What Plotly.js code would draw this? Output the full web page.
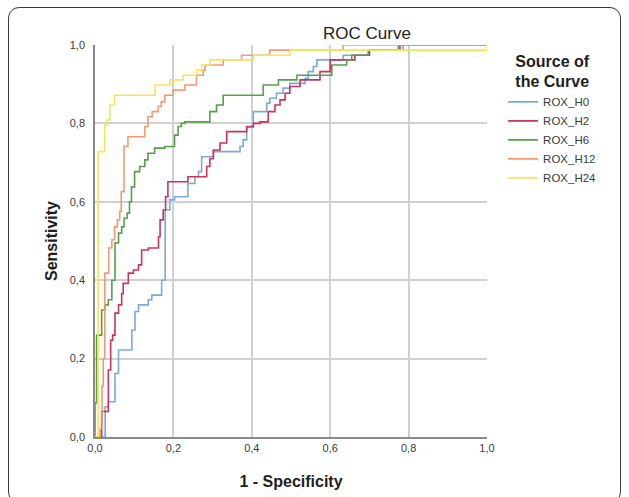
<!DOCTYPE html>
<html>
<head>
<meta charset="utf-8">
<script src="https://cdn.plot.ly/plotly-3.0.1.min.js"></script>
<style>
  html, body { margin: 0; padding: 0; background: #ffffff; }
  #wrap { position: relative; width: 629px; height: 497px; overflow: hidden; }
  #frame { position: absolute; left: 8px; top: 7px; width: 613px; height: 496px;
           border: 1px solid #3a3a3a; border-radius: 11px; box-sizing: border-box; }
  #chart { position: absolute; left: 0; top: 0; width: 629px; height: 497px; }
</style>
</head>
<body>
<div id="wrap">
  <div id="frame"></div>
  <div id="chart"></div>
</div>
<script>
// Series names
const seriesNames = ['ROX_H0', 'ROX_H2', 'ROX_H6', 'ROX_H12', 'ROX_H24'];

// ROC step points (1 - specificity, sensitivity)
const h0_x = [0, 0.012, 0.026, 0.034, 0.051, 0.060, 0.094, 0.102, 0.111, 0.136, 0.145, 0.170, 0.179, 0.191, 0.203, 0.237, 0.255, 0.264, 0.272, 0.302, 0.370, 0.378, 0.387, 0.404, 0.438, 0.446, 0.463, 0.480, 0.497, 0.536, 0.544, 0.557, 0.566, 0.633, 0.700, 0.786, 1.0];
const h0_y = [0, 0.000, 0.077, 0.090, 0.162, 0.222, 0.273, 0.320, 0.337, 0.350, 0.362, 0.400, 0.579, 0.605, 0.613, 0.647, 0.664, 0.677, 0.715, 0.728, 0.741, 0.758, 0.790, 0.830, 0.851, 0.864, 0.877, 0.890, 0.902, 0.915, 0.932, 0.945, 0.962, 0.974, 0.987, 1.000, 1.0];

const h2_x = [0, 0.017, 0.034, 0.040, 0.045, 0.051, 0.060, 0.068, 0.072, 0.085, 0.098, 0.111, 0.119, 0.136, 0.162, 0.166, 0.174, 0.180, 0.186, 0.237, 0.285, 0.293, 0.302, 0.319, 0.336, 0.387, 0.404, 0.421, 0.442, 0.459, 0.472, 0.485, 0.497, 0.523, 0.574, 0.600, 0.663, 0.700, 0.778, 1.0];
const h2_y = [0, 0.065, 0.171, 0.247, 0.260, 0.316, 0.337, 0.366, 0.392, 0.418, 0.426, 0.439, 0.477, 0.482, 0.511, 0.554, 0.579, 0.613, 0.651, 0.664, 0.690, 0.710, 0.732, 0.750, 0.779, 0.792, 0.800, 0.804, 0.830, 0.847, 0.860, 0.877, 0.894, 0.911, 0.932, 0.962, 0.974, 0.987, 1.000, 1.0];

const h6_x = [0, 0.000, 0.004, 0.017, 0.026, 0.034, 0.043, 0.051, 0.060, 0.068, 0.074, 0.082, 0.088, 0.093, 0.101, 0.114, 0.127, 0.135, 0.152, 0.178, 0.203, 0.212, 0.220, 0.229, 0.293, 0.310, 0.327, 0.429, 0.468, 0.515, 0.604, 0.642, 0.655, 0.697, 0.774, 1.0];
const h6_y = [0, 0.087, 0.260, 0.324, 0.337, 0.350, 0.400, 0.495, 0.520, 0.536, 0.558, 0.571, 0.600, 0.638, 0.677, 0.690, 0.707, 0.724, 0.737, 0.741, 0.770, 0.792, 0.800, 0.804, 0.830, 0.847, 0.872, 0.898, 0.911, 0.923, 0.949, 0.962, 0.974, 0.987, 1.000, 1.0];

const h12_x = [0, 0.013, 0.018, 0.021, 0.025, 0.035, 0.043, 0.050, 0.057, 0.063, 0.067, 0.074, 0.084, 0.127, 0.135, 0.146, 0.161, 0.169, 0.178, 0.199, 0.229, 0.259, 0.276, 0.281, 0.327, 0.374, 0.446, 0.633, 1.0];
const h12_y = [0, 0.020, 0.130, 0.200, 0.418, 0.482, 0.503, 0.536, 0.554, 0.575, 0.626, 0.741, 0.766, 0.792, 0.817, 0.830, 0.843, 0.855, 0.872, 0.885, 0.898, 0.923, 0.936, 0.949, 0.962, 0.974, 0.987, 1.000, 1.0];

const h24_x = [0, 0.008, 0.025, 0.031, 0.038, 0.050, 0.153, 0.191, 0.225, 0.259, 0.272, 0.293, 0.404, 0.497, 1.0];
const h24_y = [0, 0.728, 0.796, 0.809, 0.847, 0.872, 0.898, 0.911, 0.923, 0.936, 0.949, 0.962, 0.974, 0.987, 1.0];

const seriesX = [h0_x, h2_x, h6_x, h12_x, h24_x];
const seriesY = [h0_y, h2_y, h6_y, h12_y, h24_y];
const seriesColors = ['#7ba9dc', '#c8355e', '#55a049', '#f39a74', '#f2e65a'];

// Axis ticks
const tickVals = [0, 0.2, 0.4, 0.6, 0.8, 1.0];
const tickText = ['0,0', '0,2', '0,4', '0,6', '0,8', '1,0'];

const FONT = 'Liberation Sans, Arial, Helvetica, sans-serif';

const traces = seriesNames.map((name, i) => ({
  type: 'scatter',
  mode: 'lines',
  name: name,
  x: seriesX[i],
  y: seriesY[i],
  line: { color: seriesColors[i], width: 1.6, shape: 'hv' },
  hoverinfo: 'x+y+name'
}));

const axisCommon = {
  range: [0, 1],
  tickvals: tickVals,
  ticktext: tickText,
  tickfont: { family: FONT, size: 11, color: '#3a3a3a' },
  showgrid: true,
  gridcolor: '#d0d0d0',
  gridwidth: 1.5,
  zeroline: false,
  showline: true,
  linecolor: '#8a8a8a',
  linewidth: 1.5,
  ticks: '',
  fixedrange: true
};

const layout = {
  width: 629,
  height: 497,
  margin: { l: 95, r: 142, t: 45, b: 60, pad: 0 },
  paper_bgcolor: 'rgba(0,0,0,0)',
  plot_bgcolor: 'rgba(0,0,0,0)',
  font: { family: FONT, color: '#222' },
  title: {
    text: 'ROC Curve',
    x: 367 / 629, xref: 'container', xanchor: 'center',
    y: 1 - 33 / 497, yref: 'container', yanchor: 'middle',
    font: { family: FONT, size: 17, color: '#1e1e1e' }
  },
  xaxis: Object.assign({}, axisCommon, {
    title: { text: '1 - Specificity', standoff: 23,
             font: { family: FONT, size: 16, color: '#1e1e1e', weight: 'bold' } }
  }),
  yaxis: Object.assign({}, axisCommon, {
    ticklabelstandoff: 6,
    title: { text: 'Sensitivity', standoff: 8,
             font: { family: FONT, size: 16, color: '#1e1e1e', weight: 'bold' } }
  }),
  showlegend: true,
  legend: {
    x: 1.041, xanchor: 'left',
    y: 0.998, yanchor: 'top',
    bgcolor: 'rgba(0,0,0,0)',
    font: { family: FONT, size: 11.5, color: '#3a3a3a' },
    title: { text: 'Source of<br>the Curve', side: 'top center',
             font: { family: FONT, size: 16, color: '#1e1e1e', weight: 'bold' } },
    tracegroupgap: 0
  }
};

Plotly.newPlot('chart', traces, layout, { displayModeBar: false, staticPlot: false });
</script>
</body>
</html>
